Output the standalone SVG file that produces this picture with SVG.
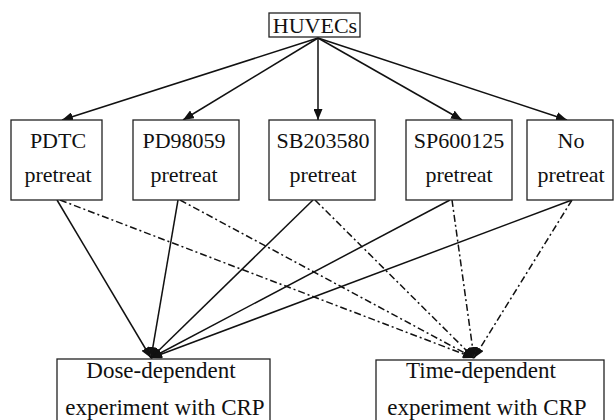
<svg xmlns="http://www.w3.org/2000/svg" width="614" height="420" viewBox="0 0 614 420">
<style>
.box{fill:#fff;stroke:#222;stroke-width:1.3}
.t{font-size:22px;fill:#111;text-anchor:middle}
.b{font-size:23px}
.s{stroke:#111;stroke-width:1.5;fill:none}
.d{stroke:#111;stroke-width:1.5;fill:none;stroke-dasharray:7 3 2 3}
</style>
<defs>
<marker id="ah" markerUnits="userSpaceOnUse" markerWidth="11" markerHeight="9" refX="11" refY="4.5" orient="auto">
<path d="M0,0 L11,4.5 L0,9 z" fill="#111"/>
</marker>
</defs>
<rect width="614" height="420" fill="#fff"/>
<g id="connectors">
<line class="s" x1="318" y1="38" x2="62" y2="120" marker-end="url(#ah)"/>
<line class="s" x1="318" y1="38" x2="183" y2="120" marker-end="url(#ah)"/>
<line class="s" x1="318" y1="38" x2="318" y2="120" marker-end="url(#ah)"/>
<line class="s" x1="318" y1="38" x2="462" y2="120" marker-end="url(#ah)"/>
<line class="s" x1="318" y1="38" x2="567" y2="120" marker-end="url(#ah)"/>
<line class="s" x1="57" y1="200" x2="151" y2="358" marker-end="url(#ah)"/>
<line class="s" x1="178" y1="200" x2="151" y2="358" marker-end="url(#ah)"/>
<line class="s" x1="313" y1="200" x2="151" y2="358" marker-end="url(#ah)"/>
<line class="s" x1="450" y1="200" x2="151" y2="358" marker-end="url(#ah)"/>
<line class="s" x1="572" y1="200" x2="151" y2="358" marker-end="url(#ah)"/>
<line class="d" x1="60" y1="200" x2="474" y2="358" marker-end="url(#ah)"/>
<line class="d" x1="180" y1="200" x2="474" y2="358" marker-end="url(#ah)"/>
<line class="d" x1="315" y1="200" x2="474" y2="358" marker-end="url(#ah)"/>
<line class="d" x1="452" y1="200" x2="474" y2="358" marker-end="url(#ah)"/>
<line class="d" x1="572" y1="200" x2="474" y2="358" marker-end="url(#ah)"/>
</g>
<g id="huvecs">
<rect class="box" x="269" y="13" width="91" height="24"/>
<text class="t" font-family="Liberation Serif, DejaVu Serif, serif" x="315" y="33" font-size="21">HUVECs</text>
</g>
<g id="pdtc">
<rect class="box" x="11" y="120" width="91" height="80"/>
<text class="t" font-family="Liberation Serif, DejaVu Serif, serif" x="58" y="148">PDTC</text>
<text class="t" font-family="Liberation Serif, DejaVu Serif, serif" x="58" y="182">pretreat</text>
</g>
<g id="pd98059">
<rect class="box" x="133" y="120" width="106" height="80"/>
<text class="t" font-family="Liberation Serif, DejaVu Serif, serif" x="184" y="148">PD98059</text>
<text class="t" font-family="Liberation Serif, DejaVu Serif, serif" x="184" y="182">pretreat</text>
</g>
<g id="sb203580">
<rect class="box" x="269" y="120" width="106" height="80"/>
<text class="t" font-family="Liberation Serif, DejaVu Serif, serif" x="323" y="148">SB203580</text>
<text class="t" font-family="Liberation Serif, DejaVu Serif, serif" x="323" y="182">pretreat</text>
</g>
<g id="sp600125">
<rect class="box" x="406" y="120" width="106" height="80"/>
<text class="t" font-family="Liberation Serif, DejaVu Serif, serif" x="459" y="148">SP600125</text>
<text class="t" font-family="Liberation Serif, DejaVu Serif, serif" x="459" y="182">pretreat</text>
</g>
<g id="no">
<rect class="box" x="527" y="120" width="86" height="80"/>
<text class="t" font-family="Liberation Serif, DejaVu Serif, serif" x="571" y="148">No</text>
<text class="t" font-family="Liberation Serif, DejaVu Serif, serif" x="571" y="182">pretreat</text>
</g>
<g id="dose">
<rect class="box" x="57" y="359" width="213" height="70"/>
<text class="t b" font-family="Liberation Serif, DejaVu Serif, serif" x="161" y="378">Dose-dependent</text>
<text class="t b" font-family="Liberation Serif, DejaVu Serif, serif" x="165" y="415">experiment with CRP</text>
</g>
<g id="time">
<rect class="box" x="376" y="360" width="228" height="70"/>
<text class="t b" font-family="Liberation Serif, DejaVu Serif, serif" x="481" y="378">Time-dependent</text>
<text class="t b" font-family="Liberation Serif, DejaVu Serif, serif" x="487" y="415">experiment with CRP</text>
</g>
</svg>
